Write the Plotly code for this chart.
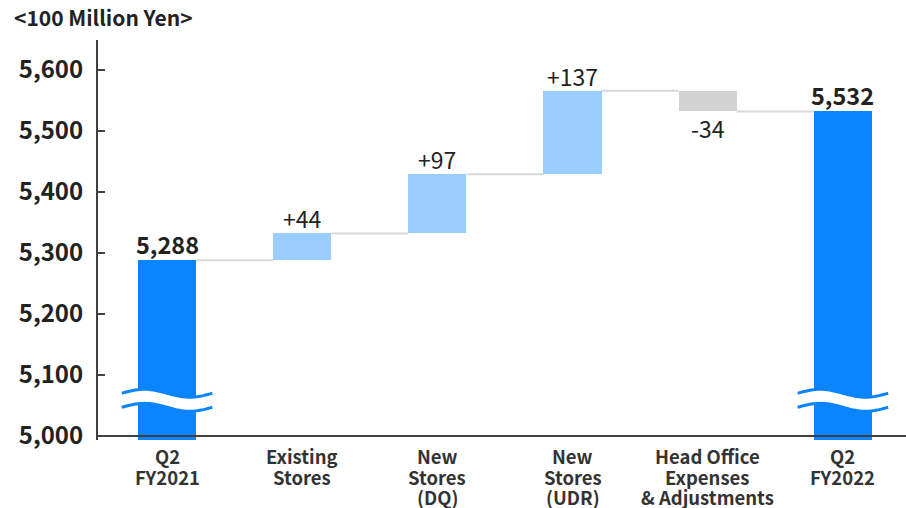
import math
import plotly.graph_objects as go

# ---- data ----
categories = [["Q2", "FY2021"], ["Existing", "Stores"], ["New", "Stores", "(DQ)"], ["New", "Stores", "(UDR)"],
              ["Head Office", "Expenses", "& Adjustments"], ["Q2", "FY2022"]]
start_total = 5288
changes = [44, 97, 137, -34]
end_total = 5532
y_ticks = [5000, 5100, 5200, 5300, 5400, 5500, 5600]
unit_label = "<100 Million Yen>"

FONT = "Noto Sans CJK JP"
C_TOTAL = "#0A84FF"
C_UP = "#99CCFF"
C_DOWN = "#D3D3D3"
C_CONN = "#D9D9D9"
C_TEXT = "#222222"
FLOOR = 4994
BAR_W = 0.43
PLOT_H = 400
PLOT_W = 808
ML, MT = 98, 40

# build waterfall geometry
idx = list(range(len(categories)))
bases, heights, colors, tops = [], [], [], []
bases.append(FLOOR); heights.append(start_total - FLOOR); colors.append(C_TOTAL); tops.append(start_total)
level = start_total
for c in changes:
    bases.append(level); heights.append(c)
    colors.append(C_UP if c >= 0 else C_DOWN)
    level += c
    tops.append(level)
bases.append(FLOOR); heights.append(end_total - FLOOR); colors.append(C_TOTAL); tops.append(end_total)

fig = go.Figure()
fig.add_trace(go.Bar(x=idx, y=heights, base=bases, marker=dict(color=colors, line=dict(width=0)),
                     width=BAR_W, hoverinfo="skip", showlegend=False))

# connectors
for i in range(len(idx) - 1):
    fig.add_shape(type="line", x0=i + BAR_W / 2, x1=i + 1 - BAR_W / 2, y0=tops[i], y1=tops[i],
                  line=dict(color=C_CONN, width=2), layer="below")

# value labels
ann = []
ann.append(dict(x=0, y=start_total, text=f"<b>{start_total:,}</b>", yshift=16,
                font=dict(size=23.5, color=C_TEXT)))
for k, c in enumerate(changes):
    i = k + 1
    if c >= 0:
        ann.append(dict(x=i, y=tops[i], text=f"+{c}", yshift=15, font=dict(size=23, color=C_TEXT)))
    else:
        ann.append(dict(x=i, y=tops[i], text=f"-{abs(c)}", yshift=-16.5, font=dict(size=23, color=C_TEXT)))
ann.append(dict(x=5, y=end_total, text=f"<b>{end_total:,}</b>", yshift=16,
                font=dict(size=23.5, color=C_TEXT)))
for a in ann:
    a.update(showarrow=False, xref="x", yref="y", yanchor="middle")

# category labels (one annotation per line for tight line spacing)
for i, lines in enumerate(categories):
    for j, line in enumerate(lines):
        ann.append(dict(x=i, y=0, xref="x", yref="paper", yanchor="middle", showarrow=False,
                        yshift=-(16 + 20.7 * j), text=f"<b>{line}</b>", borderpad=0,
                        font=dict(size=18.5, color="#333333")))

# unit label
ann.append(dict(x=(12 - ML) / PLOT_W, y=(PLOT_H + MT - 17) / PLOT_H, xref="paper", yref="paper",
                text="<b>" + unit_label.replace("<", "&lt;").replace(">", "&gt;") + "</b>",
                showarrow=False, xanchor="left", yanchor="middle", font=dict(size=21, color=C_TEXT)))

# axis break waves over total bars
def wave(cx, yc, half=0.335, amp=6.5, n=40):
    return [(cx - half + 2 * half * j / n, yc + amp * math.sin(2 * math.pi * j / n)) for j in range(n + 1)]

for cx in (0, 5):
    top = wave(cx, 5070)
    bot = wave(cx, 5047)
    d = "M " + " L ".join(f"{x},{y}" for x, y in top) + " L " + " L ".join(f"{x},{y}" for x, y in reversed(bot)) + " Z"
    fig.add_shape(type="path", path=d, fillcolor="white", line=dict(width=0), layer="above")
    for pts in (top, bot):
        d2 = "M " + " L ".join(f"{x},{y}" for x, y in pts)
        fig.add_shape(type="path", path=d2, line=dict(color=C_TOTAL, width=3), layer="above")

# x-axis baseline at 5,000
fig.add_shape(type="line", xref="paper", x0=0, x1=1, y0=5000, y1=5000,
              line=dict(color="#404040", width=2), layer="above")

fig.update_layout(
    width=906, height=508,
    margin=dict(l=ML, r=0, t=MT, b=68),
    plot_bgcolor="white", paper_bgcolor="white",
    font=dict(family=FONT, color=C_TEXT),
    annotations=ann,
    bargap=0,
    xaxis=dict(range=[-0.511, 5.467], showticklabels=False,
               showline=False, showgrid=False, zeroline=False, ticks="", fixedrange=True),
    yaxis=dict(range=[4993.4, 5649], tickmode="array", tickvals=y_ticks,
               ticktext=[f"<b>{v:,}</b>" for v in y_ticks],
               showline=True, linecolor="#404040", linewidth=2, ticks="inside", ticklen=7, tickwidth=2,
               tickcolor="#404040", showgrid=False, zeroline=False, tickfont=dict(size=24, color=C_TEXT),
               ticklabelstandoff=8, fixedrange=True),
)

fig.write_html("out.html")
